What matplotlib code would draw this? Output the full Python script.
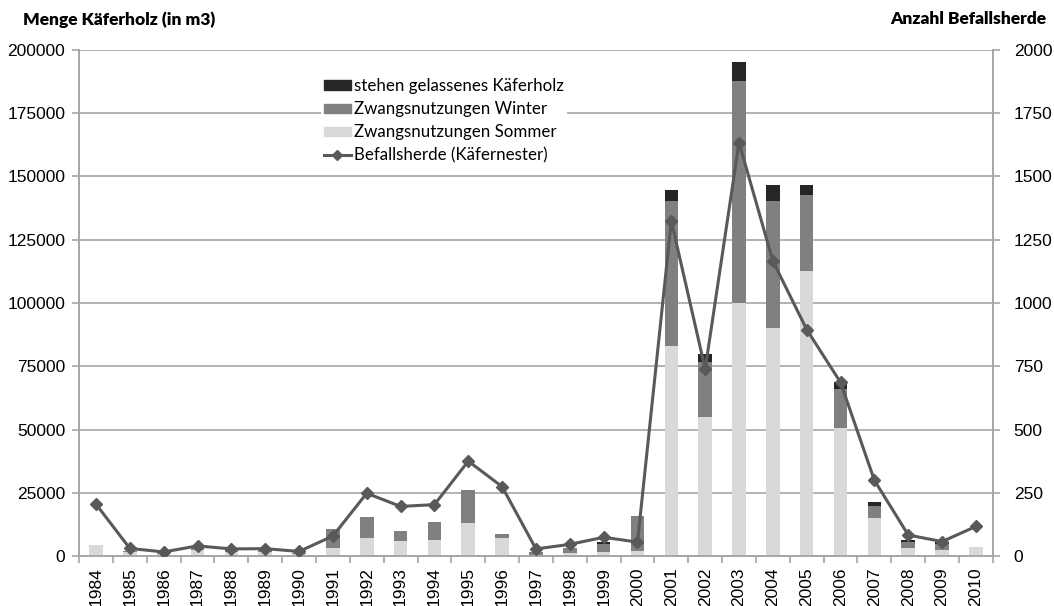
import numpy as np
import matplotlib.pyplot as plt
from matplotlib.lines import Line2D
from matplotlib.patches import Patch

# Käferholz nach Jahr (m3) und Anzahl Befallsherde
jahre = [str(j) for j in range(1984, 2011)]
sommer = [4300, 1500, 800, 2500, 1500, 1500, 800, 3000, 7000, 5900,
          6300, 13000, 7000, 500, 1200, 1500, 1800, 83000, 55000, 100000,
          90000, 112700, 50700, 15100, 3300, 2400, 3500]
winter = [0, 500, 300, 1000, 1000, 1000, 300, 7600, 8400, 3900,
          7100, 13000, 1800, 1200, 2100, 3300, 14100, 57300, 21500, 87700,
          50200, 29900, 15500, 4800, 2100, 2200, 0]
stehen = [0, 0, 0, 0, 0, 0, 0, 0, 0, 0,
          0, 0, 0, 0, 0, 600, 0, 4500, 3400, 7400,
          6400, 4200, 2600, 1300, 900, 1000, 0]
herde = [205, 30, 16, 40, 28, 29, 18, 79, 248, 196,
         203, 375, 274, 28, 46, 74, 55, 1324, 739, 1634,
         1166, 895, 686, 299, 83, 57, 117]

c_sommer = '#d9d9d9'
c_winter = '#808080'
c_stehen = '#262626'
c_linie = '#595959'
c_achse = '#a6a6a6'

plt.rcParams['font.family'] = ['Liberation Sans', 'DejaVu Sans']

fig = plt.figure(figsize=(10.54, 6.06), dpi=100)
ax = fig.add_axes([0.075, 0.0825, 0.867, 0.835])
ax2 = ax.twinx()

x = np.arange(len(jahre))
b = 0.4
s = np.array(sommer)
w = np.array(winter)
k = np.array(stehen)
ax.bar(x, s, width=b, color=c_sommer, zorder=2)
ax.bar(x, w, width=b, bottom=s, color=c_winter, zorder=2)
ax.bar(x, k, width=b, bottom=s + w, color=c_stehen, zorder=2)

ax2.plot(x, herde, color=c_linie, lw=2.2, marker='D', ms=6.5, zorder=3)

ax.set_xlim(-0.5, len(jahre) - 0.5)
ax.set_ylim(0, 200000)
ax2.set_ylim(0, 2000)
ax.set_yticks(np.arange(0, 200001, 25000))
ax2.set_yticks(np.arange(0, 2001, 250))
ax.yaxis.grid(True, color=c_achse, lw=1.2, zorder=0)
ax.set_axisbelow(True)

ax.set_xticks(x)
ax.set_xticklabels(jahre, rotation=90, fontsize=12.5)
ax.set_xticks(np.arange(-0.5, len(jahre), 1), minor=True)
ax.tick_params(axis='x', which='major', length=0, pad=8)
ax.tick_params(axis='x', which='minor', length=5, color=c_achse, width=1.2)
ax.tick_params(axis='y', labelsize=12.5, length=5, color=c_achse, width=1.2, pad=5)
ax2.tick_params(axis='y', labelsize=12.5, length=5, color=c_achse, width=1.2, pad=10)

for a in (ax, ax2):
    a.spines['top'].set_visible(False)
    for sp in ('left', 'right', 'bottom'):
        a.spines[sp].set_color(c_achse)
        a.spines[sp].set_linewidth(1.2)

fig.text(0.022, 0.968, 'Menge Käferholz (in m3)', fontsize=12.5, fontweight='heavy',
         family=['Lato', 'DejaVu Sans'], ha='left', va='center')
fig.text(0.993, 0.968, 'Anzahl Befallsherde', fontsize=12.5, fontweight='heavy',
         family=['Lato', 'DejaVu Sans'], ha='right', va='center')

handles = [Patch(color=c_stehen), Patch(color=c_winter), Patch(color=c_sommer),
           Line2D([], [], color=c_linie, lw=2.2, marker='D', ms=5)]
labels = ['stehen gelassenes Käferholz', 'Zwangsnutzungen Winter',
          'Zwangsnutzungen Sommer', 'Befallsherde (Käfernester)']
leg = ax2.legend(handles, labels, loc='upper left', bbox_to_anchor=(0.255, 0.968),
                 frameon=True, framealpha=1, edgecolor='none',
                 handlelength=1.6, handleheight=0.45, handletextpad=0.15,
                 labelspacing=0.42, borderpad=0.2,
                 prop={'family': ['Lato', 'DejaVu Sans'], 'size': 12.2})

fig.savefig('out.png', dpi=100)
